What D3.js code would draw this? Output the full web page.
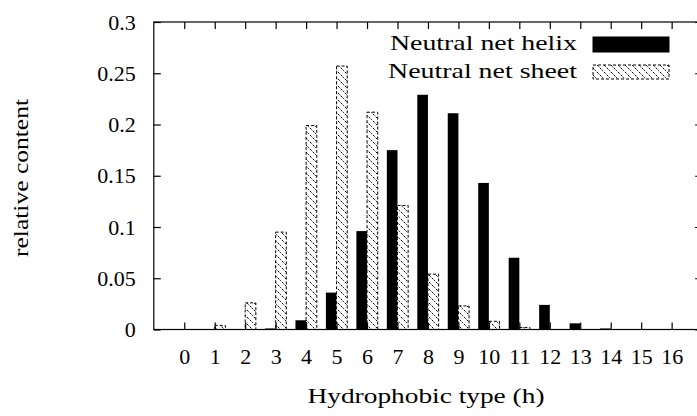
<!DOCTYPE html>
<html>
<head>
<meta charset="utf-8">
<script src="https://cdn.jsdelivr.net/npm/d3@7"></script>
<style>
  html, body { margin: 0; padding: 0; background: #fff; }
  svg { display: block; }
  text { font-family: "Liberation Serif", "DejaVu Serif", serif; fill: #000; }
</style>
</head>
<body>
<svg id="chart" width="697" height="416"></svg>
<script>
// Hydrophobic type h = 0..16
const types = d3.range(0, 17);
// Relative content per hydrophobic type
const helixValues = [0, 0, 0, 0.001, 0.009, 0.036, 0.096, 0.175, 0.229, 0.211, 0.143, 0.070, 0.024, 0.006, 0.001, 0, 0];
const sheetValues = [0, 0.004, 0.026, 0.095, 0.199, 0.257, 0.212, 0.121, 0.054, 0.023, 0.008, 0.002, 0, 0, 0, 0, 0];
const yTicks = [0, 0.05, 0.1, 0.15, 0.2, 0.25, 0.3];
const yTickLabels = ["0", "0.05", "0.1", "0.15", "0.2", "0.25", "0.3"];
const seriesNames = ["Neutral net helix", "Neutral net sheet"];

const svg = d3.select("#chart");
const plotLeft = 153.8, plotRight = 702.1, plotTop = 22, plotBottom = 329.5;

const x = d3.scaleLinear().domain([-1, 17]).range([plotLeft, plotRight]);
const y = d3.scaleLinear().domain([0, 0.3]).range([plotBottom, plotTop]);
const halfBox = 0.35;

// Hatch pattern for the sheet series
const defs = svg.append("defs");
const pat = defs.append("pattern")
  .attr("id", "hatch")
  .attr("patternUnits", "userSpaceOnUse")
  .attr("width", 7).attr("height", 7);
pat.append("rect").attr("width", 7).attr("height", 7).attr("fill", "#fff");
pat.append("path")
  .attr("d", "M-1,-1 L8,8 M-1,6 L1,8 M6,-1 L8,1")
  .attr("stroke", "#000").attr("stroke-width", 1)
  .attr("stroke-dasharray", "2.5,1.5");

// Bars
svg.append("g").selectAll("rect")
  .data(types.map(t => ({ t, v: helixValues[t] })))
  .join("rect")
  .attr("x", d => x(d.t - halfBox))
  .attr("width", d => x(d.t) - x(d.t - halfBox))
  .attr("y", d => y(d.v))
  .attr("height", d => y(0) - y(d.v))
  .attr("fill", "#000");

svg.append("g").selectAll("rect")
  .data(types.map(t => ({ t, v: sheetValues[t] })).filter(d => d.v > 0))
  .join("rect")
  .attr("x", d => x(d.t))
  .attr("width", d => x(d.t + halfBox) - x(d.t))
  .attr("y", d => y(d.v))
  .attr("height", d => y(0) - y(d.v))
  .attr("fill", "url(#hatch)")
  .attr("stroke", "#000").attr("stroke-width", 1)
  .attr("stroke-dasharray", "3,2");

// Frame
svg.append("rect")
  .attr("x", plotLeft).attr("y", plotTop)
  .attr("width", plotRight - plotLeft).attr("height", plotBottom - plotTop)
  .attr("fill", "none").attr("stroke", "#000").attr("stroke-width", 1.2);

// Axes with inward ticks, mirrored on opposite sides
const tickLen = 7;
const gx = svg.append("g").attr("transform", `translate(0,${plotBottom})`)
  .call(d3.axisBottom(x).tickValues(types).tickSize(-tickLen).tickPadding(19).tickFormat(d3.format("d")));
const gxTop = svg.append("g").attr("transform", `translate(0,${plotTop})`)
  .call(d3.axisTop(x).tickValues(types).tickSize(-tickLen).tickFormat(""));
const gy = svg.append("g").attr("transform", `translate(${plotLeft},0)`)
  .call(d3.axisLeft(y).tickValues(yTicks).tickSize(-tickLen).tickPadding(18)
    .tickFormat((d, i) => yTickLabels[i]));
const gyRight = svg.append("g").attr("transform", `translate(${plotRight},0)`)
  .call(d3.axisRight(y).tickValues(yTicks).tickSize(-tickLen).tickFormat(""));

[gx, gxTop, gy, gyRight].forEach(g => {
  g.select(".domain").remove();
  g.selectAll(".tick line").attr("stroke", "#000").attr("stroke-width", 1.2);
  g.selectAll("text").attr("font-size", 22).attr("font-family", "Liberation Serif").attr("fill", "#000");
});
gx.selectAll("text").attr("dy", "0.71em");

// Axis titles
svg.append("text")
  .attr("x", 426).attr("y", 403)
  .attr("text-anchor", "middle")
  .attr("font-size", 22)
  .attr("textLength", 237).attr("lengthAdjust", "spacingAndGlyphs")
  .text("Hydrophobic type (h)");

svg.append("text")
  .attr("transform", "translate(28,178) rotate(-90)")
  .attr("text-anchor", "middle")
  .attr("font-size", 22)
  .attr("textLength", 158).attr("lengthAdjust", "spacingAndGlyphs")
  .text("relative content");

// Legend
const legend = svg.append("g");
const legendRows = [
  { name: seriesNames[0], fill: "#000", dash: null, y: 37, h: 15, base: 50, len: 187 },
  { name: seriesNames[1], fill: "url(#hatch)", dash: "3,2", y: 65, h: 14, base: 78, len: 189 }
];
legendRows.forEach(r => {
  legend.append("text")
    .attr("x", 577).attr("y", r.base)
    .attr("text-anchor", "end")
    .attr("font-size", 22)
    .attr("textLength", r.len).attr("lengthAdjust", "spacingAndGlyphs")
    .text(r.name);
  legend.append("rect")
    .attr("x", 593).attr("y", r.y).attr("width", 76).attr("height", r.h)
    .attr("fill", r.fill)
    .attr("stroke", "#000").attr("stroke-width", 1)
    .attr("stroke-dasharray", r.dash);
});
</script>
</body>
</html>
